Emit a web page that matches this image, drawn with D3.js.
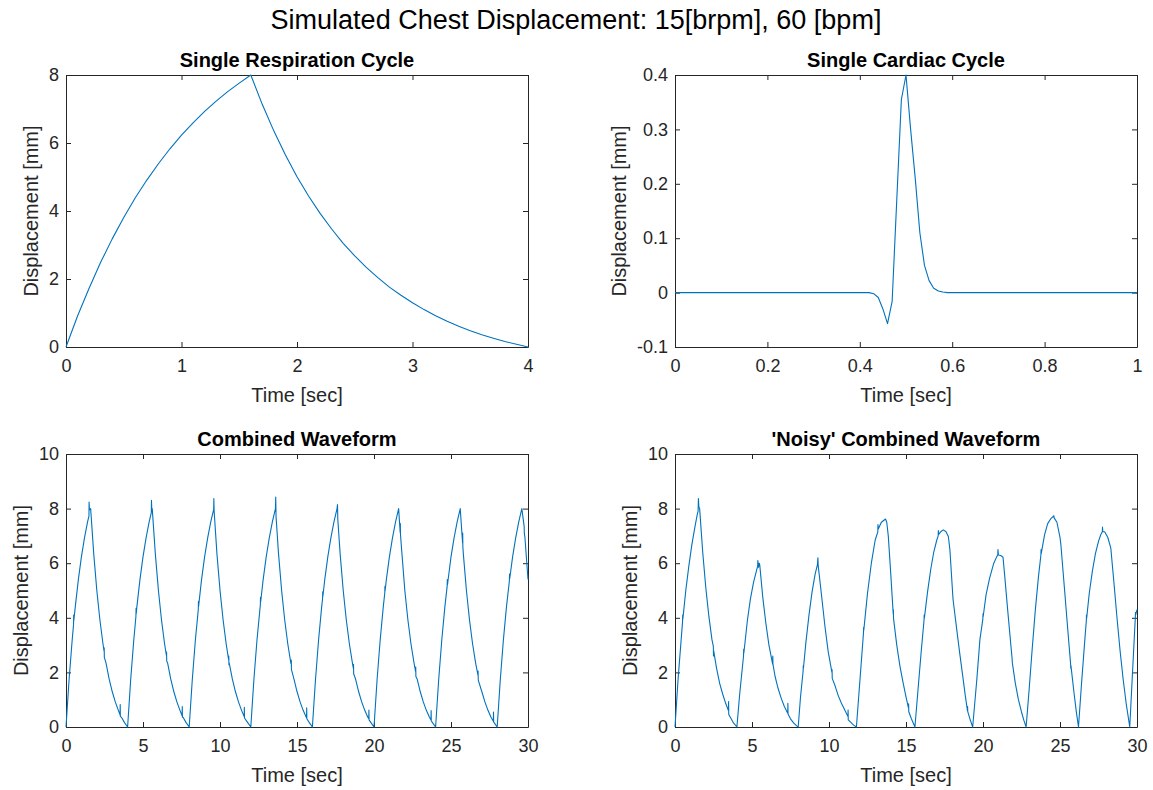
<!DOCTYPE html>
<html>
<head>
<meta charset="utf-8">
<title>Simulated Chest Displacement</title>
<script src="https://cdn.jsdelivr.net/npm/d3@7"></script>
<style>
  body { margin: 0; background: #fff; }
  svg text { font-family: "Liberation Sans", Arial, Helvetica, sans-serif; }
  .tick text { font-size: 18px; fill: #262626; }
  .tick line, .domain { stroke: #262626; }
</style>
</head>
<body>
<svg id="fig" width="1153" height="790"></svg>
<script>
// single respiration cycle [sec, mm]
const respCycle = [
  [0,0],[0.1,0.91],[0.2,1.73],[0.3,2.49],[0.4,3.18],[0.5,3.81],[0.6,4.39],[0.7,4.91],[0.8,5.39],
  [0.9,5.83],[1.0,6.23],[1.1,6.59],[1.2,6.93],[1.3,7.23],[1.4,7.51],[1.5,7.76],[1.6,8.0],
  [1.7,7.13],[1.8,6.35],[1.9,5.65],[2.0,5.01],[2.1,4.44],[2.2,3.93],[2.3,3.47],[2.4,3.05],
  [2.5,2.68],[2.6,2.34],[2.7,2.04],[2.8,1.76],[2.9,1.52],[3.0,1.30],[3.1,1.10],[3.2,0.92],
  [3.3,0.76],[3.4,0.61],[3.5,0.48],[3.6,0.36],[3.7,0.26],[3.8,0.16],[3.9,0.08],[4.0,0]
];

// single cardiac cycle [sec, mm]
const cardiacCycle = [
  [0,0],[0.42,0],[0.43,-0.002],[0.44,-0.009],[0.45,-0.03],[0.46,-0.057],[0.47,-0.016],
  [0.48,0.17],[0.49,0.355],[0.50,0.40],[0.51,0.30],[0.52,0.21],[0.53,0.11],[0.54,0.05],
  [0.55,0.022],[0.56,0.008],[0.57,0.003],[0.58,0.001],[0.59,0],[1.0,0]
];

// combined waveform [sec, mm]
const combinedWave = [
  [0,0],[0.2,1.73],[0.4,3.18],[0.49,3.75],[0.5,4.1],[0.51,3.9],[0.6,4.39],[0.8,5.39],[1.0,6.23],[1.2,6.93],[1.4,7.51],[1.49,7.72],[1.5,8.24],[1.52,7.95],[1.6,8.0],[1.8,6.35],[2.0,5.01],[2.2,3.93],[2.4,3.05],[2.47,2.78],[2.48,2.9],[2.49,2.55],[2.6,2.34],[2.8,1.76],[3.0,1.3],[3.2,0.92],[3.4,0.61],[3.51,0.45],[3.52,0.82],[3.53,0.38],[3.6,0.36],[3.8,0.16],[4.0,0],
  [4.2,1.73],[4.4,3.18],[4.54,4.05],[4.55,4.35],[4.56,4.15],[4.6,4.39],[4.8,5.39],[5.0,6.23],[5.2,6.93],[5.4,7.51],[5.54,7.85],[5.55,8.3],[5.57,7.98],[5.6,8.0],[5.8,6.35],[6.0,5.01],[6.2,3.93],[6.4,3.05],[6.52,2.62],[6.53,2.75],[6.54,2.42],[6.6,2.34],[6.8,1.76],[7.0,1.3],[7.2,0.92],[7.4,0.61],[7.54,0.41],[7.55,0.75],[7.56,0.36],[7.6,0.36],[7.8,0.16],[8.0,0],
  [8.2,1.73],[8.4,3.18],[8.59,4.3],[8.6,4.6],[8.61,4.42],[8.8,5.39],[9.0,6.23],[9.2,6.93],[9.4,7.51],[9.59,7.97],[9.6,8.37],[9.62,7.9],[9.8,6.35],[10.0,5.01],[10.2,3.93],[10.4,3.05],[10.56,2.47],[10.57,2.6],[10.58,2.28],[10.6,2.34],[10.8,1.76],[11.0,1.3],[11.2,0.92],[11.4,0.61],[11.57,0.38],[11.58,0.72],[11.59,0.33],[11.8,0.16],[12.0,0],
  [12.2,1.73],[12.4,3.18],[12.62,4.48],[12.63,4.75],[12.64,4.58],[12.8,5.39],[13.0,6.23],[13.2,6.93],[13.4,7.51],[13.6,8.0],[13.62,8.42],[13.64,7.7],[13.8,6.35],[14.0,5.01],[14.2,3.93],[14.4,3.05],[14.6,2.34],[14.62,2.32],[14.63,2.45],[14.64,2.1],[14.8,1.76],[15.0,1.3],[15.2,0.92],[15.4,0.61],[15.6,0.36],[15.62,0.34],[15.63,0.7],[15.64,0.3],[15.8,0.16],[16.0,0],
  [16.2,1.73],[16.4,3.18],[16.6,4.39],[16.66,4.7],[16.67,4.95],[16.68,4.78],[16.8,5.39],[17.0,6.23],[17.2,6.93],[17.4,7.51],[17.6,8.0],[17.63,8.15],[17.65,7.6],[17.8,6.35],[18.0,5.01],[18.2,3.93],[18.4,3.05],[18.6,2.34],[18.66,2.15],[18.67,2.3],[18.68,1.95],[18.8,1.76],[19.0,1.3],[19.2,0.92],[19.4,0.61],[19.6,0.36],[19.66,0.3],[19.67,0.62],[19.68,0.26],[19.8,0.16],[20.0,0],
  [20.2,1.73],[20.4,3.18],[20.6,4.39],[20.7,4.91],[20.71,5.15],[20.72,4.98],[20.8,5.39],[21.0,6.23],[21.2,6.93],[21.4,7.51],[21.6,8.0],[21.7,7.13],[21.71,7.45],[21.72,7.05],[21.8,6.45],[22.0,5.01],[22.2,3.93],[22.4,3.05],[22.6,2.34],[22.7,2.04],[22.71,2.2],[22.72,1.85],[22.8,1.76],[23.0,1.3],[23.2,0.92],[23.4,0.61],[23.6,0.36],[23.7,0.26],[23.71,0.6],[23.72,0.22],[23.8,0.16],[24.0,0],
  [24.2,1.73],[24.4,3.18],[24.6,4.39],[24.75,5.15],[24.76,5.4],[24.77,5.2],[25.0,6.23],[25.2,6.93],[25.4,7.51],[25.6,8.0],[25.75,6.75],[25.76,7.1],[25.77,6.6],[25.8,6.35],[26.0,5.01],[26.2,3.93],[26.4,3.05],[26.6,2.34],[26.75,1.9],[26.76,2.05],[26.77,1.72],[27.0,1.3],[27.2,0.92],[27.4,0.61],[27.6,0.36],[27.75,0.21],[27.76,0.55],[27.77,0.18],[27.8,0.16],[28.0,0],
  [28.2,1.73],[28.4,3.18],[28.6,4.39],[28.79,5.35],[28.8,5.6],[28.81,5.42],[29.0,6.23],[29.2,6.93],[29.4,7.51],[29.6,8.0],[29.75,7.35],[29.76,7.1],[29.8,6.95],[30.0,5.4]
];

// 'noisy' combined waveform [sec, mm]
const noisyWave = [
  [0,0],[0.2,1.75],[0.4,3.2],[0.49,3.85],[0.5,4.1],[0.51,3.95],[0.7,5.0],[0.9,5.9],[1.1,6.7],[1.3,7.35],[1.45,7.8],[1.5,7.9],[1.52,8.37],[1.55,8.06],[1.6,8.0],[1.8,6.4],[2.0,5.1],[2.2,4.05],[2.4,3.2],[2.49,2.95],[2.5,2.6],[2.51,2.8],[2.7,2.15],[2.9,1.6],[3.1,1.2],[3.3,0.85],[3.47,0.6],[3.48,0.93],[3.49,0.46],[3.6,0.35],[3.8,0.15],[4.02,0],
  [4.2,1.2],[4.45,2.6],[4.46,2.85],[4.47,2.7],[4.7,3.9],[4.9,4.7],[5.1,5.3],[5.3,5.75],[5.37,5.9],[5.38,6.1],[5.42,5.85],[5.47,6.0],[5.5,5.95],[5.7,4.75],[5.9,3.8],[6.1,3.0],[6.34,2.3],[6.35,2.6],[6.36,2.3],[6.5,1.85],[6.7,1.4],[6.9,1.05],[7.1,0.75],[7.32,0.5],[7.33,0.87],[7.34,0.48],[7.5,0.3],[7.7,0.15],[7.9,0.04],[8.0,0],
  [8.15,1.1],[8.32,2.05],[8.33,2.25],[8.34,2.15],[8.5,3.1],[8.7,4.1],[8.9,4.95],[9.1,5.6],[9.25,5.95],[9.28,6.2],[9.3,5.9],[9.5,4.9],[9.74,3.67],[9.95,2.75],[10.19,2.0],[10.2,2.1],[10.21,1.78],[10.4,1.5],[10.6,1.15],[10.8,0.88],[11.0,0.65],[11.23,0.38],[11.24,0.62],[11.25,0.26],[11.4,0.18],[11.6,0.07],[11.78,0],
  [12.0,1.65],[12.24,3.45],[12.25,3.65],[12.26,3.55],[12.5,4.9],[12.75,6.0],[13.0,6.85],[13.17,7.15],[13.18,7.42],[13.2,7.25],[13.4,7.5],[13.67,7.62],[13.75,7.5],[13.85,7.0],[14.0,5.7],[14.17,4.15],[14.18,4.3],[14.19,3.98],[14.4,3.0],[14.6,2.25],[14.8,1.65],[15.0,1.1],[15.16,0.7],[15.17,0.85],[15.18,0.56],[15.35,0.3],[15.58,0],
  [15.8,1.5],[16.0,2.85],[16.17,3.9],[16.18,4.1],[16.19,3.98],[16.4,4.95],[16.6,5.75],[16.8,6.4],[17.0,6.85],[17.09,7.0],[17.1,7.2],[17.12,7.05],[17.25,7.15],[17.42,7.22],[17.6,7.15],[17.75,6.98],[17.85,6.5],[18.04,4.8],[18.05,4.72],[18.06,4.65],[18.3,3.55],[18.5,2.65],[18.7,1.8],[18.85,1.15],[18.99,0.6],[19.0,0.75],[19.01,0.56],[19.15,0.3],[19.33,0],
  [19.6,1.75],[19.8,3.2],[19.99,3.95],[20.0,4.15],[20.01,4.04],[20.2,4.85],[20.43,5.45],[20.7,6.0],[20.9,6.25],[20.96,6.3],[20.97,6.5],[21.0,6.3],[21.15,6.28],[21.3,6.22],[21.4,5.6],[21.6,4.3],[21.89,2.5],[21.9,2.4],[21.91,2.33],[22.1,1.6],[22.3,1.0],[22.5,0.55],[22.65,0.25],[22.8,0],
  [23.0,1.4],[23.2,2.9],[23.4,4.3],[23.6,5.5],[23.76,6.3],[23.77,6.5],[23.78,6.35],[24.0,7.05],[24.2,7.45],[24.4,7.63],[24.55,7.7],[24.6,7.74],[24.62,7.66],[24.8,7.5],[25.0,6.95],[25.06,6.66],[25.3,5.0],[25.5,3.6],[25.69,2.3],[25.7,2.15],[25.71,2.25],[25.9,1.3],[26.05,0.6],[26.2,0],
  [26.4,1.6],[26.6,3.1],[26.71,3.9],[26.72,4.1],[26.73,3.98],[26.9,4.9],[27.1,5.7],[27.3,6.35],[27.5,6.8],[27.65,7.05],[27.75,7.15],[27.76,7.32],[27.78,7.15],[27.9,7.15],[28.1,6.95],[28.3,6.55],[28.5,5.3],[28.7,4.0],[28.9,2.8],[29.1,1.75],[29.3,0.85],[29.53,0],
  [29.7,1.9],[29.89,4.0],[29.9,4.2],[29.91,4.1],[30.0,4.3]
];

// tick values and labels
const respXTicks = [0, 1, 2, 3, 4];
const respYTicks = [0, 2, 4, 6, 8];
const cardiacXTicks = [0, 0.2, 0.4, 0.6, 0.8, 1];
const cardiacXLabels = ["0", "0.2", "0.4", "0.6", "0.8", "1"];
const cardiacYTicks = [-0.1, 0, 0.1, 0.2, 0.3, 0.4];
const cardiacYLabels = ["-0.1", "0", "0.1", "0.2", "0.3", "0.4"];
const waveXTicks = [0, 5, 10, 15, 20, 25, 30];
const waveYTicks = [0, 2, 4, 6, 8, 10];

const W = 1153, H = 790;
const lineColor = "#0072bd";
const svg = d3.select("#fig");
svg.append("rect").attr("width", W).attr("height", H).attr("fill", "#fff");

svg.append("text")
  .attr("x", 576).attr("y", 29)
  .attr("text-anchor", "middle")
  .attr("font-size", 27)
  .attr("fill", "#000")
  .text("Simulated Chest Displacement: 15[brpm], 60 [bpm]");

const panels = [
  { title: "Single Respiration Cycle", data: respCycle, xDomain: [0, 4], yDomain: [0, 8],
    xTicks: respXTicks, yTicks: respYTicks, left: 66, top: 75, w: 462, h: 272 },
  { title: "Single Cardiac Cycle", data: cardiacCycle, xDomain: [0, 1], yDomain: [-0.1, 0.4],
    xTicks: cardiacXTicks, xLabels: cardiacXLabels, yTicks: cardiacYTicks, yLabels: cardiacYLabels,
    left: 675, top: 75, w: 462, h: 272 },
  { title: "Combined Waveform", data: combinedWave, xDomain: [0, 30], yDomain: [0, 10],
    xTicks: waveXTicks, yTicks: waveYTicks, left: 66, top: 454, w: 462, h: 273 },
  { title: "'Noisy' Combined Waveform", data: noisyWave, xDomain: [0, 30], yDomain: [0, 10],
    xTicks: waveXTicks, yTicks: waveYTicks, left: 675, top: 454, w: 462, h: 273 }
];

panels.forEach((p, i) => {
  const g = svg.append("g").attr("transform", `translate(${p.left},${p.top})`);
  const x = d3.scaleLinear().domain(p.xDomain).range([0, p.w]);
  const y = d3.scaleLinear().domain(p.yDomain).range([p.h, 0]);
  const fmtX = p.xLabels ? (d, k) => p.xLabels[k] : d3.format("d");
  const fmtY = p.yLabels ? (d, k) => p.yLabels[k] : d3.format("d");

  // box + inward ticks on all four sides
  g.append("g").attr("transform", `translate(0,${p.h})`)
    .call(d3.axisBottom(x).tickValues(p.xTicks).tickFormat(fmtX)
      .tickSizeInner(-5).tickSizeOuter(0).tickPadding(12));
  g.append("g")
    .call(d3.axisTop(x).tickValues(p.xTicks).tickFormat("")
      .tickSizeInner(-5).tickSizeOuter(0));
  const yAxis = g.append("g")
    .call(d3.axisLeft(y).tickValues(p.yTicks).tickFormat(fmtY)
      .tickSizeInner(-5).tickSizeOuter(0).tickPadding(7));
  g.append("g").attr("transform", `translate(${p.w},0)`)
    .call(d3.axisRight(y).tickValues(p.yTicks).tickFormat("")
      .tickSizeInner(-5).tickSizeOuter(0));
  g.selectAll(".tick text").attr("font-family", null).attr("font-size", null);

  g.append("clipPath").attr("id", "clip" + i)
    .append("rect").attr("x", -1).attr("y", -1).attr("width", p.w + 2).attr("height", p.h + 2);

  const line = d3.line().x(d => x(d[0])).y(d => y(d[1]));
  g.append("path")
    .datum(p.data.slice().sort((a, b) => a[0] - b[0]))
    .attr("clip-path", `url(#clip${i})`)
    .attr("fill", "none")
    .attr("stroke", lineColor)
    .attr("stroke-width", 1.1)
    .attr("stroke-linejoin", "round")
    .attr("d", line);

  // title
  g.append("text")
    .attr("x", p.w / 2).attr("y", -8)
    .attr("text-anchor", "middle")
    .attr("font-size", 20).attr("font-weight", "bold")
    .attr("fill", "#000")
    .text(p.title);

  // x label
  g.append("text")
    .attr("x", p.w / 2).attr("y", p.h + 48)
    .attr("dy", "0.35em")
    .attr("text-anchor", "middle")
    .attr("font-size", 20)
    .attr("fill", "#262626")
    .text("Time [sec]");

  // y label, placed left of the widest tick label
  const maxW = d3.max(yAxis.selectAll(".tick text").nodes(), n => n.getBBox().width);
  const lx = -7 - maxW - 18;
  g.append("text")
    .attr("transform", `translate(${lx},${p.h / 2}) rotate(-90)`)
    .attr("dy", "0.35em")
    .attr("text-anchor", "middle")
    .attr("font-size", 20)
    .attr("fill", "#262626")
    .text("Displacement [mm]");
});
</script>
</body>
</html>
